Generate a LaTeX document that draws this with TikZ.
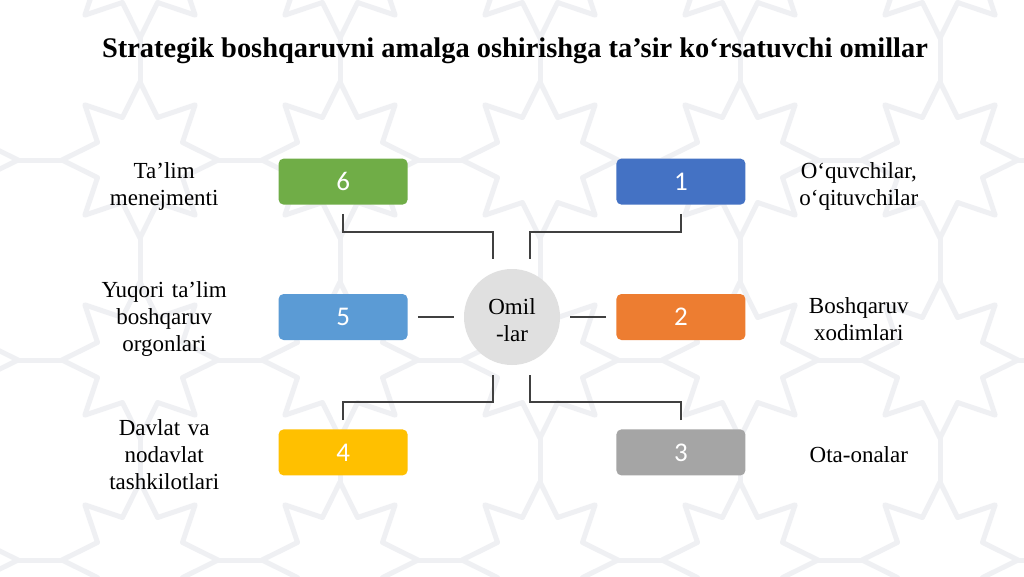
\documentclass[tikz,border=0pt]{standalone}
\usepackage{fontspec}
\setmainfont{Liberation Serif}
\newfontfamily\numfont{Carlito}
\usetikzlibrary{positioning, calc}

\definecolor{cgreen}{HTML}{70AD47}
\definecolor{cblue}{HTML}{4472C4}
\definecolor{clight}{HTML}{5B9BD5}
\definecolor{corange}{HTML}{ED7D31}
\definecolor{cgold}{HTML}{FFC000}
\definecolor{cgray}{HTML}{A5A5A5}
\definecolor{cline}{HTML}{404040}
\definecolor{cpat}{HTML}{EFF0F3}

\tikzset{
	numbox/.style={rectangle, rounded corners=5pt, minimum width=129pt,
		minimum height=46pt, text=white, font=\numfont\fontsize{27}{27}\selectfont},
	lbl/.style={text width=150pt, align=center, inner sep=0pt,
		font=\fontsize{23}{27}\selectfont},
	link/.style={draw=cline, line width=1.3pt},
	pat/.style={draw=cpat, line width=5pt, line join=round}
}

\begin{document}
\begin{tikzpicture}[x=1pt, y=-1pt, node distance=89pt and 56pt]
	\useasboundingbox (0,0) rectangle (1024,576);
	\fill[white] (0,0) rectangle (1024,576);
	% faint star pattern
	\foreach \px in {-60,140,...,1140}
		\foreach \py in {-40,160,...,640} {
			\draw[pat] (\px,\py) +(0:78) -- +(22.5:46) -- +(45:78) -- +(67.5:46)
				-- +(90:78) -- +(112.5:46) -- +(135:78) -- +(157.5:46)
				-- +(180:78) -- +(202.5:46) -- +(225:78) -- +(247.5:46)
				-- +(270:78) -- +(292.5:46) -- +(315:78) -- +(337.5:46) -- cycle;
			\draw[pat] (\px,\py) +(0:78) -- +(0:122)
				+(90:78) -- +(90:122);
		}

	\node[anchor=base, font=\fontsize{28.4}{28.4}\selectfont\bfseries] (title) at (515,57)
		{Strategik boshqaruvni amalga oshirishga ta’sir ko‘rsatuvchi omillar};

	\node[circle, fill=black!12, minimum size=96pt, inner sep=0pt, align=center,
		font=\fontsize{23}{27}\selectfont] (omil) at (512,317) {};
	\node[align=center, font=\fontsize{23}{27}\selectfont] (omiltxt) at (512,320) {Omil\\-lar};

	\node[numbox, fill=clight,  left =of omil] (b5) {5};
	\node[numbox, fill=corange, right=of omil] (b2) {2};
	\node[numbox, fill=cgreen,  above=of b5]   (b6) {6};
	\node[numbox, fill=cgold,   below=of b5]   (b4) {4};
	\node[numbox, fill=cblue,   above=of b2]   (b1) {1};
	\node[numbox, fill=cgray,   below=of b2]   (b3) {3};

	\node[lbl, left =39pt of b6, yshift=-5pt] (l6) {Ta’lim\\menejmenti};
	\node[lbl, left =39pt of b5, yshift=-2pt] (l5) {Yuqori ta’lim\\boshqaruv\\orgonlari};
	\node[lbl, left =39pt of b4, yshift=-2pt] (l4) {Davlat va\\nodavlat\\tashkilotlari};
	\node[lbl, right=38pt of b1, yshift=-5pt] (l1) {O‘quvchilar,\\o‘qituvchilar};
	\node[lbl, right=38pt of b2, yshift=-2pt] (l2) {Boshqaruv\\xodimlari};
	\node[lbl, right=38pt of b3, yshift=-2pt] (l3) {Ota-onalar};

	\coordinate (c6) at (493,259);
	\coordinate (c1) at (530,259);
	\coordinate (c4) at (493,375);
	\coordinate (c3) at (530,375);
	\draw[link] ([yshift=-9pt]b6.south) |- (c6 |- 0,232) -- (c6);
	\draw[link] ([yshift=-9pt]b1.south) |- (c1 |- 0,232) -- (c1);
	\draw[link] ([yshift=9pt]b4.north)  |- (c4 |- 0,402) -- (c4);
	\draw[link] ([yshift=9pt]b3.north)  |- (c3 |- 0,402) -- (c3);
	\draw[link] ([xshift=10pt]b5.east) -- ([xshift=-10pt]omil.west);
	\draw[link] ([xshift=-10pt]b2.west) -- ([xshift=10pt]omil.east);
\end{tikzpicture}
\end{document}
